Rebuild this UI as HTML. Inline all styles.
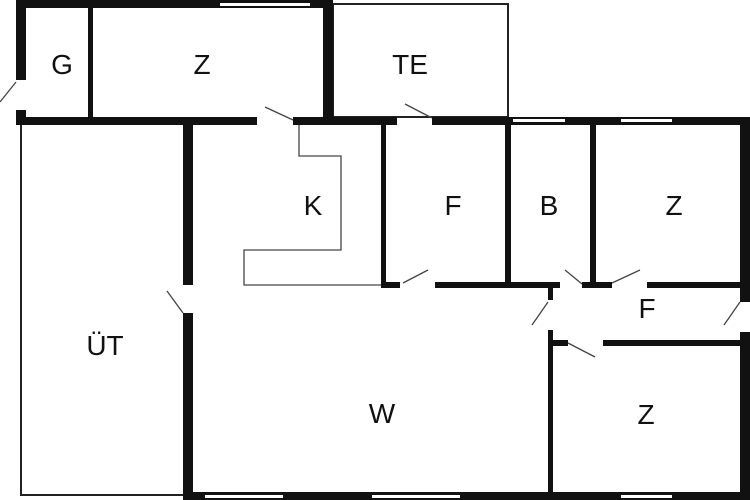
<!DOCTYPE html>
<html><head><style>html,body{margin:0;padding:0;background:#fff}svg{display:block}</style></head><body>
<svg width="750" height="500" viewBox="0 0 750 500" xmlns="http://www.w3.org/2000/svg">
<rect width="750" height="500" fill="#fff"/>
<g fill="none" stroke="#222" stroke-width="2">
<rect x="333" y="4" width="175" height="113"/>
<polyline points="21,125 21,495 183,495"/>
</g>
<g fill="none" stroke="#444" stroke-width="1.3">
<polyline points="299,123 299,156 341,156 341,250 244,250 244,285 382,285"/>
<line x1="0" y1="102" x2="16" y2="82"/>
<line x1="265" y1="107" x2="293" y2="120"/>
<line x1="405" y1="104" x2="432" y2="118"/>
<line x1="403" y1="283" x2="428" y2="270"/>
<line x1="565" y1="270" x2="582" y2="284"/>
<line x1="612" y1="283" x2="640" y2="270"/>
<line x1="532" y1="325" x2="548" y2="302"/>
<line x1="724" y1="325" x2="740" y2="302"/>
<line x1="568" y1="343" x2="595" y2="357"/>
<line x1="167" y1="291" x2="183" y2="313"/>
</g>
<g fill="#111">
<rect x="16" y="0" width="317" height="8"/>
<rect x="16" y="0" width="10" height="80"/>
<rect x="16" y="110" width="10" height="15"/>
<rect x="88" y="8" width="5" height="112"/>
<rect x="16" y="117" width="241" height="8"/>
<rect x="293" y="117" width="104" height="8"/>
<rect x="323" y="0" width="10" height="125"/>
<rect x="432" y="117" width="318" height="8"/>
<rect x="740" y="117" width="10" height="185"/>
<rect x="740" y="332" width="10" height="168"/>
<rect x="183" y="125" width="10" height="160"/>
<rect x="183" y="313" width="10" height="187"/>
<rect x="183" y="492" width="567" height="8"/>
<rect x="381" y="125" width="5" height="163"/>
<rect x="505" y="125" width="6" height="163"/>
<rect x="590" y="125" width="6" height="163"/>
<rect x="381" y="282" width="19" height="6"/>
<rect x="435" y="282" width="125" height="6"/>
<rect x="582" y="282" width="30" height="6"/>
<rect x="647" y="282" width="93" height="6"/>
<rect x="548" y="288" width="5" height="12"/>
<rect x="548" y="330" width="5" height="170"/>
<rect x="553" y="340" width="15" height="6"/>
<rect x="603" y="340" width="137" height="6"/>
</g>
<g fill="#fff">
<rect x="220" y="3" width="90" height="3"/>
<rect x="513" y="119" width="52" height="3"/>
<rect x="621" y="119" width="51" height="3"/>
<rect x="205" y="495" width="78" height="3"/>
<rect x="372" y="495" width="88" height="3"/>
<rect x="621" y="495" width="51" height="3"/>
</g>
<g font-family="Liberation Sans, sans-serif" font-size="28" fill="#111" text-anchor="middle">
<text x="62" y="74">G</text>
<text x="202" y="74">Z</text>
<text x="410" y="74">TE</text>
<text x="313" y="215">K</text>
<text x="453" y="215">F</text>
<text x="549" y="215">B</text>
<text x="674" y="215">Z</text>
<text x="647" y="318">F</text>
<text x="105" y="355">ÜT</text>
<text x="382" y="423">W</text>
<text x="646" y="424">Z</text>
</g>
</svg>
</body></html>
